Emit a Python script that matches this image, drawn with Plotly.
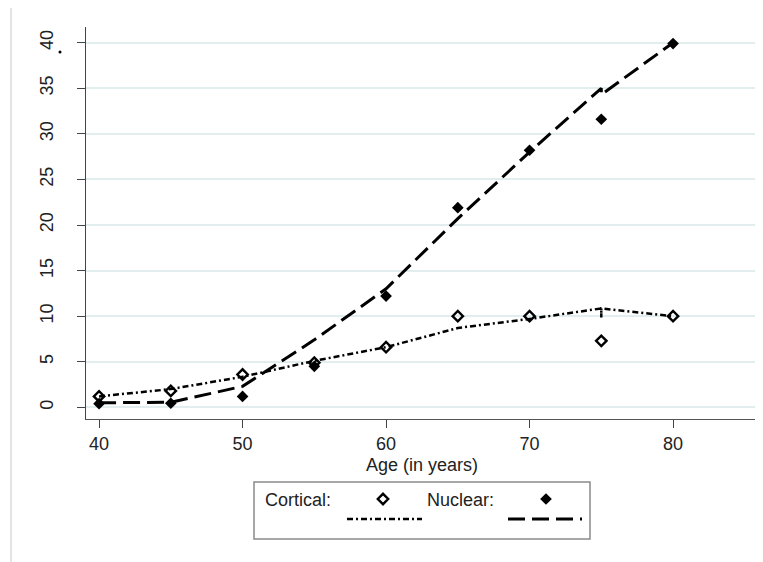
import plotly.graph_objects as go

# ---- data ----
ages = [40, 45, 50, 55, 60, 65, 70, 75, 80]
cortical = [1.2, 1.8, 3.6, 4.9, 6.6, 10.0, 10.0, 7.3, 10.0]
nuclear = [0.4, 0.45, 1.2, 4.5, 12.2, 21.9, 28.2, 31.6, 39.9]

fit_ages_cortical = [40, 45, 50, 55, 60, 65, 70, 75, 75, 75, 80]
fit_cortical = [1.2, 2.0, 3.35, 5.1, 6.6, 8.7, 9.7, 10.85, 9.85, 10.85, 10.0]
fit_ages_nuclear = [40, 45, 50, 55, 60, 65, 70, 75, 75, 80]
fit_nuclear = [0.5, 0.55, 2.3, 7.4, 13.0, 20.7, 28.0, 35.0, 34.3, 40.0]

x_ticks = [40, 50, 60, 70, 80]
y_ticks = [0, 5, 10, 15, 20, 25, 30, 35, 40]
x_title = "Age (in years)"
legend_labels = ["Cortical:", "Nuclear:"]

# the page body adds an 8px margin; size the figure to fill the rest
OFF = 8
W, H = 763 - OFF, 562 - OFF
FONT = "Liberation Sans, Arial, sans-serif"
DASH_NUC = "17px,7px"
DASH_COR = "6px,3px,2px,3px"
OPEN_MK = dict(symbol="diamond-open", size=8, color="black",
               line=dict(width=2.4, color="black"))
FILL_MK = dict(symbol="diamond", size=9, color="black")


def px(v):
    """window pixel -> figure pixel"""
    return v - OFF


fig = go.Figure()

# fitted lines
fig.add_trace(go.Scatter(x=fit_ages_cortical, y=fit_cortical, mode="lines",
                         line=dict(color="black", width=2.5, dash=DASH_COR),
                         showlegend=False, hoverinfo="skip"))
fig.add_trace(go.Scatter(x=fit_ages_nuclear, y=fit_nuclear, mode="lines",
                         line=dict(color="black", width=3, dash=DASH_NUC),
                         showlegend=False, hoverinfo="skip"))
# observed points
fig.add_trace(go.Scatter(x=ages, y=cortical, mode="markers", marker=OPEN_MK,
                         showlegend=False))
fig.add_trace(go.Scatter(x=ages, y=nuclear, mode="markers", marker=FILL_MK,
                         showlegend=False))

# ---- legend (custom, pixel coordinates on a full-figure helper axis) ----
fig.add_trace(go.Scatter(x=[px(383)], y=[px(499)], xaxis="x2", yaxis="y2", mode="markers",
                         marker=OPEN_MK, showlegend=False, hoverinfo="skip",
                         cliponaxis=False))
fig.add_trace(go.Scatter(x=[px(546)], y=[px(499)], xaxis="x2", yaxis="y2", mode="markers",
                         marker=FILL_MK, showlegend=False, hoverinfo="skip",
                         cliponaxis=False))
fig.add_trace(go.Scatter(x=[px(347), px(422)], y=[px(519), px(519)], xaxis="x2", yaxis="y2",
                         mode="lines", line=dict(color="black", width=2.5, dash=DASH_COR),
                         showlegend=False, hoverinfo="skip"))
fig.add_trace(go.Scatter(x=[px(508), px(582)], y=[px(519), px(519)], xaxis="x2", yaxis="y2",
                         mode="lines", line=dict(color="black", width=3, dash=DASH_NUC),
                         showlegend=False, hoverinfo="skip"))

x_l, x_r, y_t, y_b = px(86), px(757), px(27), px(419)

fig.update_layout(
    width=W, height=H,
    margin=dict(l=0, r=0, t=0, b=0),
    paper_bgcolor="white", plot_bgcolor="rgba(0,0,0,0)",
    font=dict(family=FONT, color="black", size=18),
    showlegend=False,
    xaxis=dict(domain=[x_l / W, x_r / W], range=[39.09, 85.85],
               tickvals=x_ticks, ticks="outside", ticklen=8, tickcolor="#444",
               showgrid=False, zeroline=False, showline=True, linecolor="#555",
               linewidth=1, tickfont=dict(size=18, color="#222"), ticklabelstandoff=0,
               automargin=False, anchor="y"),
    yaxis=dict(domain=[1 - y_b / H, 1 - y_t / H], range=[-1.28, 41.72],
               tickvals=y_ticks, ticks="outside", ticklen=8, tickcolor="#444",
               showgrid=True, gridcolor="#e2eded", gridwidth=1.5,
               zeroline=False, showline=True, linecolor="#444", linewidth=1,
               tickangle=-90, tickfont=dict(size=18, color="#222"), ticklabelstandoff=17,
               automargin=False, anchor="x"),
    xaxis2=dict(domain=[0, 1], range=[0, W], visible=False, fixedrange=True,
                anchor="y2"),
    yaxis2=dict(domain=[0, 1], range=[H, 0], visible=False, fixedrange=True,
                anchor="x2"),
    shapes=[
        # outer graph frame (left and top edges visible)
        dict(type="line", xref="x2", yref="y2", x0=px(11), x1=px(11), y0=px(7), y1=H,
             line=dict(color="#e4e4e4", width=2)),
        dict(type="line", xref="x2", yref="y2", x0=px(11), x1=W, y0=px(7), y1=px(7),
             line=dict(color="#e4e4e4", width=2)),
        # legend box
        dict(type="rect", xref="x2", yref="y2", x0=px(254), x1=px(590), y0=px(482), y1=px(539),
             line=dict(color="#8a8a8a", width=1.5)),
        # stray dot beside the 40 label
        dict(type="circle", xref="x2", yref="y2", x0=px(58.5), x1=px(61.5),
             y0=px(50.5), y1=px(53.5), fillcolor="black", line=dict(width=0)),
    ],
    annotations=[
        dict(text=x_title, xref="x2", yref="y2", x=(x_l + x_r) / 2, y=px(465),
             showarrow=False, xanchor="center", yanchor="middle",
             font=dict(size=18, color="#222")),
        dict(text=legend_labels[0], xref="x2", yref="y2", x=px(263), y=px(500),
             showarrow=False, xanchor="left", yanchor="middle",
             font=dict(size=18, color="#222")),
        dict(text=legend_labels[1], xref="x2", yref="y2", x=px(425), y=px(500),
             showarrow=False, xanchor="left", yanchor="middle",
             font=dict(size=18, color="#222")),
    ],
)

fig.write_html("out.html")
